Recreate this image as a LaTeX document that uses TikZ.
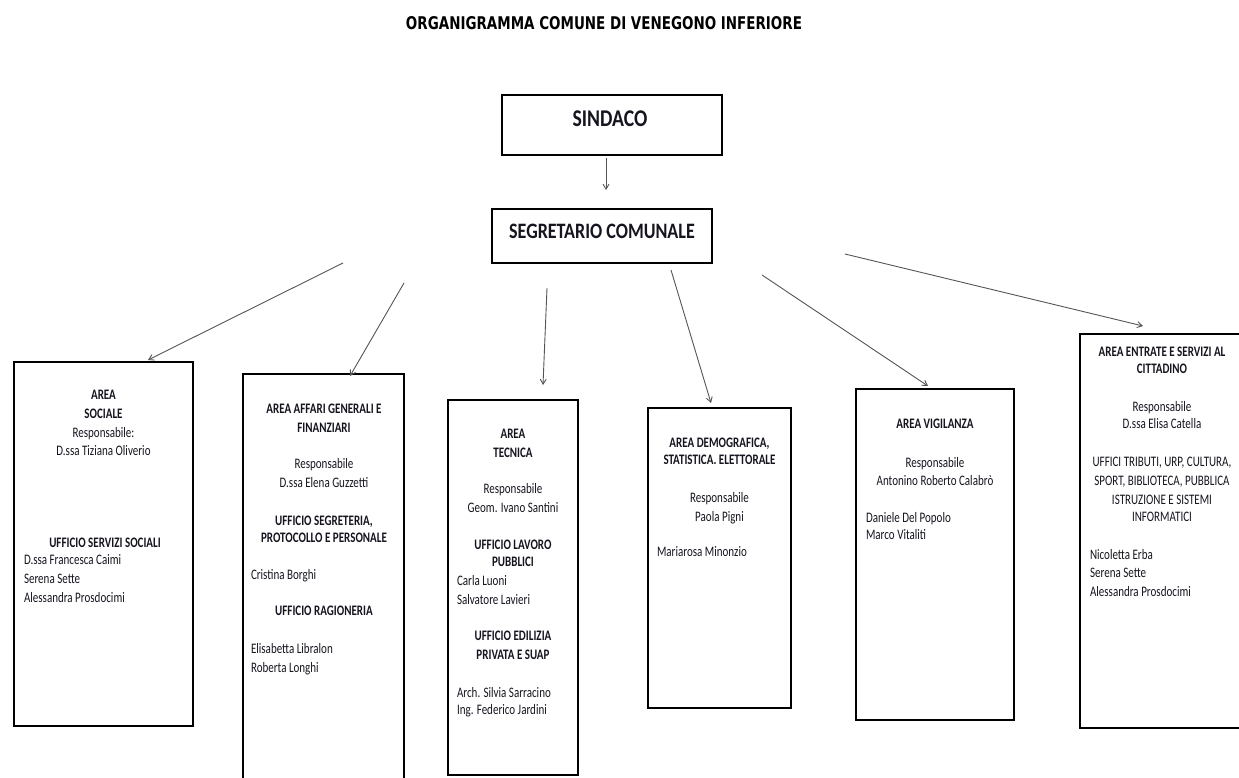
\documentclass[tikz,border=0pt]{standalone}
\usepackage{graphicx}
\usepackage{fontspec}
\setmainfont{Carlito}[FakeStretch=0.82]
\newfontfamily\boxfont{Carlito}[FakeStretch=0.76]
\newfontfamily\titlefont{DejaVu Sans}
\usetikzlibrary{arrows.meta}
\definecolor{txtcol}{HTML}{15151F}
\definecolor{linecol}{HTML}{555555}
\tikzset{
  areabox/.style={draw=black, line width=1.5pt, inner sep=0pt, outer sep=0pt, fill=none},
  txt/.style={inner sep=0pt, outer sep=0pt, text=txtcol, font=\boxfont\fontsize{14.5pt}{19pt}\selectfont},
  ctxt/.style={txt, anchor=base},
  ltxt/.style={txt, anchor=base west},
  btxt/.style={txt, anchor=base, font=\boxfont\fontsize{14.5pt}{19pt}\selectfont\bfseries},
  conn/.style={draw=linecol, line width=0.9pt, -{Straight Barb[length=5pt,width=6pt]}},
}
\begin{document}
\begin{tikzpicture}[x=1pt,y=-1pt]
\useasboundingbox (0,0) rectangle (1239,778);
\fill[white] (0,0) rectangle (1239,778);

% title
\node[inner sep=0pt] (title) at (604,23.5) {\resizebox{396pt}{13pt}{\titlefont\bfseries ORGANIGRAMMA COMUNE DI VENEGONO INFERIORE}};

% top boxes
\node[areabox, minimum width=220pt, minimum height=60pt] (sind) at (612,125) {};
\node[inner sep=0pt, text=txtcol, font=\fontsize{24pt}{26pt}\selectfont\bfseries] (sindt) at (610,119) {SINDACO};
\node[areabox, minimum width=220pt, minimum height=54pt] (segr) at (602,236) {};
\node[inner sep=0pt, text=txtcol, font=\fontsize{22pt}{24pt}\selectfont\bfseries] (segrt) at (602,231) {SEGRETARIO COMUNALE};

% area boxes
\node[areabox, minimum width=179pt, minimum height=364pt] (b1) at (103.5,544) {};
\node[areabox, minimum width=161pt, minimum height=426pt] (b2) at (323.5,587) {};
\node[areabox, minimum width=130pt, minimum height=375pt] (b3) at (513,587.5) {};
\node[areabox, minimum width=143pt, minimum height=300pt] (b4) at (719.5,558) {};
\node[areabox, minimum width=158pt, minimum height=331pt] (b5) at (935,554.5) {};
\node[areabox, minimum width=165pt, minimum height=394pt] (b6) at (1162.5,531) {};

% connectors
\coordinate (a0s) at (606,158); \coordinate (a0t) at (606,190);
\coordinate (a1s) at (343,263); \coordinate (a1t) at (148,360);
\coordinate (a2s) at (404,283); \coordinate (a2t) at (350,376);
\coordinate (a3s) at (547,288); \coordinate (a3t) at (543,385);
\coordinate (a4s) at (671,270); \coordinate (a4t) at (711,403);
\coordinate (a5s) at (762,275); \coordinate (a5t) at (928,386);
\coordinate (a6s) at (845,254); \coordinate (a6t) at (1143,326);
\draw[conn] (a0s) -- (a0t);
\draw[conn] (a1s) -- (a1t);
\draw[conn] (a2s) -- (a2t);
\draw[conn] (a3s) -- (a3t);
\draw[conn] (a4s) -- (a4t);
\draw[conn] (a5s) -- (a5t);
\draw[conn] (a6s) -- (a6t);

% box 1
\node[btxt] (t1a) at (103.5,399) {AREA};
\node[btxt] (t1b) at (103.5,418) {SOCIALE};
\node[ctxt] (t1c) at (103.5,437) {Responsabile:};
\node[ctxt] (t1d) at (103.5,455) {D.ssa Tiziana Oliverio};
\node[btxt] (t1e) at (105,547) {UFFICIO SERVIZI SOCIALI};
\node[ltxt] (t1f) at (24,564) {D.ssa Francesca Caimi};
\node[ltxt] (t1g) at (24,583) {Serena Sette};
\node[ltxt] (t1h) at (24,602) {Alessandra Prosdocimi};

% box 2
\node[btxt] (t2a) at (324,413) {AREA AFFARI GENERALI E};
\node[btxt] (t2b) at (324,432) {FINANZIARI};
\node[ctxt] (t2c) at (324,468) {Responsabile};
\node[ctxt] (t2d) at (324,487) {D.ssa Elena Guzzetti};
\node[btxt] (t2e) at (324,525) {UFFICIO SEGRETERIA,};
\node[btxt] (t2f) at (324,542) {PROTOCOLLO E PERSONALE};
\node[ltxt] (t2g) at (251,579) {Cristina Borghi};
\node[btxt] (t2h) at (324,615) {UFFICIO RAGIONERIA};
\node[ltxt] (t2i) at (251,653) {Elisabetta Libralon};
\node[ltxt] (t2j) at (251,672) {Roberta Longhi};

% box 3
\node[btxt] (t3a) at (513,438) {AREA};
\node[btxt] (t3b) at (513,457) {TECNICA};
\node[ctxt] (t3c) at (513,493) {Responsabile};
\node[ctxt] (t3d) at (513,512) {Geom. Ivano Santini};
\node[btxt] (t3e) at (513,549) {UFFICIO LAVORO};
\node[btxt] (t3f) at (513,566) {PUBBLICI};
\node[ltxt] (t3g) at (457,585) {Carla Luoni};
\node[ltxt] (t3h) at (457,604) {Salvatore Lavieri};
\node[btxt] (t3i) at (513,640) {UFFICIO EDILIZIA};
\node[btxt] (t3j) at (513,659) {PRIVATA E SUAP};
\node[ltxt] (t3k) at (457,697) {Arch. Silvia Sarracino};
\node[ltxt] (t3l) at (457,714) {Ing. Federico Jardini};

% box 4
\node[btxt] (t4a) at (719.5,447) {AREA DEMOGRAFICA,};
\node[btxt] (t4b) at (719.5,464) {STATISTICA. ELETTORALE};
\node[ctxt] (t4c) at (719.5,502) {Responsabile};
\node[ctxt] (t4d) at (719.5,521) {Paola Pigni};
\node[ltxt] (t4e) at (657,556) {Mariarosa Minonzio};

% box 5
\node[btxt] (t5a) at (935,428) {AREA VIGILANZA};
\node[ctxt] (t5b) at (935,467) {Responsabile};
\node[ctxt] (t5c) at (935,485) {Antonino Roberto Calabrò};
\node[ltxt] (t5d) at (866,522) {Daniele Del Popolo};
\node[ltxt] (t5e) at (866,539) {Marco Vitaliti};

% box 6
\node[btxt] (t6a) at (1162,356) {AREA ENTRATE E SERVIZI AL};
\node[btxt] (t6b) at (1162,373) {CITTADINO};
\node[ctxt] (t6c) at (1162,411) {Responsabile};
\node[ctxt] (t6d) at (1162,428) {D.ssa Elisa Catella};
\node[ctxt] (t6e) at (1162,466) {UFFICI TRIBUTI, URP, CULTURA,};
\node[ctxt] (t6f) at (1162,485) {SPORT, BIBLIOTECA, PUBBLICA};
\node[ctxt] (t6g) at (1162,504) {ISTRUZIONE E SISTEMI};
\node[ctxt] (t6h) at (1162,521) {INFORMATICI};
\node[ltxt] (t6i) at (1090,559) {Nicoletta Erba};
\node[ltxt] (t6j) at (1090,577) {Serena Sette};
\node[ltxt] (t6k) at (1090,596) {Alessandra Prosdocimi};
\end{tikzpicture}
\end{document}
